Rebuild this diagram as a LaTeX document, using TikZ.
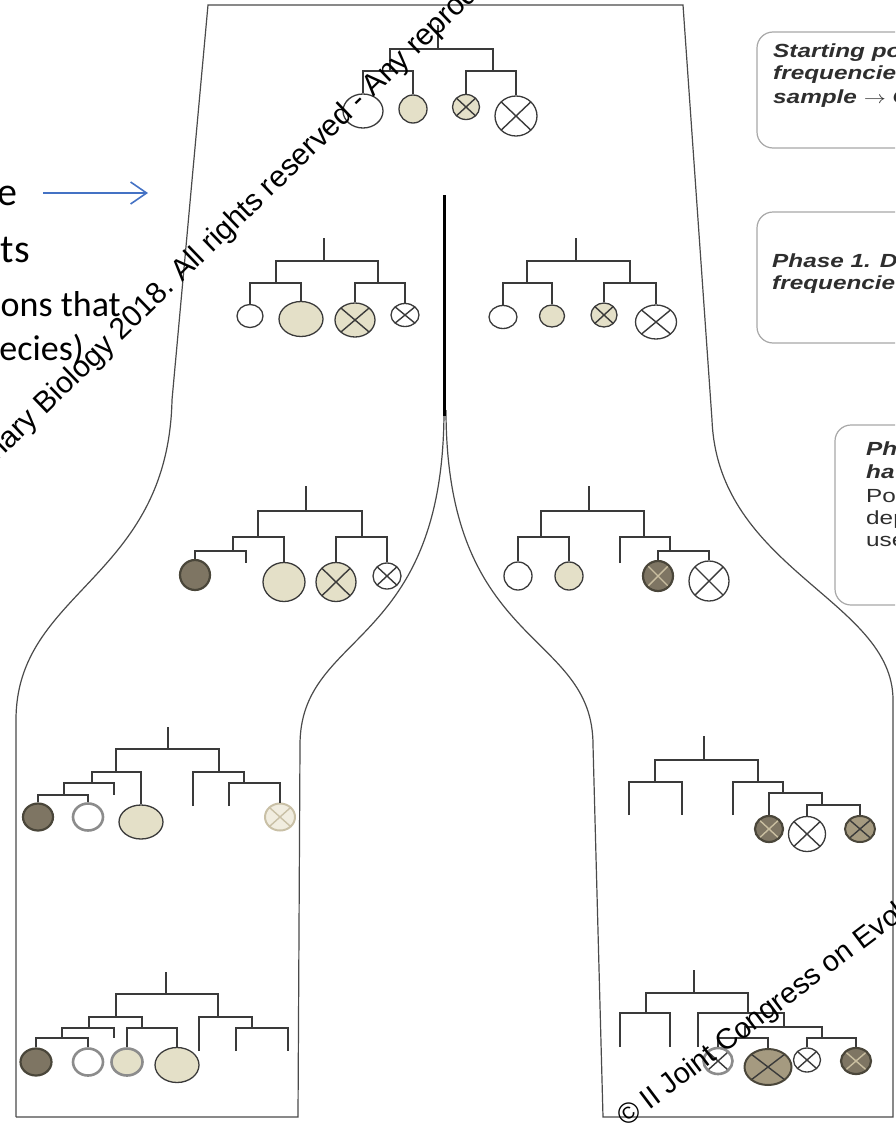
\documentclass[tikz,border=0pt]{standalone}
\usepackage{graphicx}
\usepackage{fontspec}
\setmainfont{Liberation Sans}
\newfontfamily\slidefont{Carlito}
\usetikzlibrary{shapes.geometric, arrows.meta}
\definecolor{treegray}{HTML}{3A3A3A}
\definecolor{outgray}{HTML}{4A4A4A}
\definecolor{palefill}{HTML}{E4E0C8}
\definecolor{darkfill}{HTML}{7E7563}
\definecolor{darkedge}{HTML}{4A463A}
\definecolor{midfill}{HTML}{A59A80}
\definecolor{ringgray}{HTML}{8C8C8C}
\definecolor{fadeedge}{HTML}{C9C0A6}
\definecolor{fadefill}{HTML}{F1EDE0}
\definecolor{xlight}{HTML}{C9BEA0}
\definecolor{boxgray}{HTML}{A8A8A8}
\definecolor{notegray}{HTML}{2E2E2E}
\definecolor{slideblue}{HTML}{4472C4}
\newcommand{\wide}[1]{\scalebox{1.28}[1]{#1}}

\begin{document}
\begin{tikzpicture}[x=1pt, y=-1pt,
    branch/.style={draw=treegray, line width=1.8pt},
    outline/.style={draw=outgray, line width=1.2pt},
    hap/.style={ellipse, draw=treegray, line width=1.3pt, inner sep=0pt, fill=white},
    sz/.style 2 args={minimum width=#1pt, minimum height=#2pt},
    pale/.style={fill=palefill},
    dark/.style={fill=darkfill, draw=darkedge, line width=2.2pt},
    mid/.style={fill=midfill, draw=darkedge, line width=2pt},
    ring/.style={draw=ringgray, line width=2.6pt},
    faded/.style={draw=fadeedge, fill=fadefill, line width=2pt},
    crossed/.default=treegray,
    crossed/.style={path picture={\draw[line width=1.4pt, #1]
        (path picture bounding box.north west) -- (path picture bounding box.south east)
        (path picture bounding box.north east) -- (path picture bounding box.south west);}},
    note/.style={rounded corners=16pt, draw=boxgray, line width=1.2pt, fill=white},
    notebold/.style={anchor=base west, inner sep=0pt, text=notegray,
        font=\fontsize{19}{22}\selectfont\bfseries\itshape},
    noteplain/.style={anchor=base west, inner sep=0pt, text=notegray,
        font=\fontsize{19}{22}\selectfont},
    slidetext/.style={anchor=base east, inner sep=0pt, text=black},
    wmtext/.style={inner sep=0pt, text=black, font=\fontsize{30}{30}\selectfont}]

\path[use as bounding box] (0,0) rectangle (895,1124);
\clip (0,0) rectangle (895,1124);

% outline of the two lineages
\draw[outline] (16,1117) -- (16,720) .. controls (16,590) and (168,580) .. (172,400) -- (208,5) -- (683,5)
    -- (712,420) .. controls (718,570) and (893,600) .. (893,700) -- (893,1117) -- (603,1117)
    -- (593,745) .. controls (593,630) and (446,650) .. (446,410);
\draw[outline] (16,1117) -- (298,1117) -- (300,745) .. controls (300,630) and (444,650) .. (444,410);
\draw[line width=3pt] (444,195) coordinate (splittop) -- (444,416) coordinate (splitbot);

% boxes on the right
\draw[note] (757,32) rectangle (940,148);
\draw[note] (757,212) rectangle (940,343);
\draw[note] (835,425) rectangle (940,605);
\node[notebold] (n1a) at (773,58) {\wide{Starting po}};
\node[notebold] (n1b) at (773,80) {\wide{frequencie}};
\node[notebold] (n1c) at (773,103) {\wide{sample $\rightarrow$ C}};
\node[notebold] (n2a) at (772,267) {\wide{Phase 1. D}};
\node[notebold] (n2b) at (772,289) {\wide{frequencie}};
\node[notebold] (n3a) at (866,455) {\wide{Ph}};
\node[notebold] (n3b) at (866,478) {\wide{ha}};
\node[noteplain] (n3c) at (866,502) {\wide{Po}};
\node[noteplain] (n3d) at (866,524) {\wide{dep}};
\node[noteplain] (n3e) at (866,546) {\wide{use}};

% slide text on the left
\node[slidetext, font=\slidefont\fontsize{40}{48}\selectfont] (s1) at (18,205) {e};
\node[slidetext, font=\slidefont\fontsize{40}{48}\selectfont] (s2) at (30,262) {ts};
\node[slidetext, font=\slidefont\fontsize{36}{42}\selectfont] (s3) at (121,316) {ons that};
\node[slidetext, font=\slidefont\fontsize{36}{42}\selectfont] (s4) at (84,360) {ecies)};
\coordinate (arrowtail) at (43,193);
\coordinate (arrowtip) at (148,193);
\draw[slideblue, line width=1.6pt, -{Straight Barb[length=16pt, width=22pt]}] (arrowtail) -- (arrowtip);

% starting tree
\node[hap, sz={40}{34}] (t0a) at (363,111) {};
\node[hap, pale, sz={28}{28}] (t0b) at (413,109) {};
\node[hap, pale, crossed, sz={27}{25}] (t0c) at (466,107) {};
\node[hap, crossed, sz={42}{40}] (t0d) at (516,116) {};
\coordinate (t0top) at (438,25);
\coordinate (t0j) at (438,49);
\coordinate (t0l) at (390,71);
\coordinate (t0r) at (493,71);
\draw[branch] (t0top) -- (t0j);
\draw[branch] (t0l) |- (t0j) -| (t0r);
\draw[branch] (t0a.north) |- (t0l) -| (t0b.north);
\draw[branch] (t0c.north) |- (t0r) -| (t0d.north);

% phase 1, left
\node[hap, sz={26}{23}] (l2a) at (250,316) {};
\node[hap, pale, sz={44}{35}] (l2b) at (301,319) {};
\node[hap, pale, crossed, sz={40}{34}] (l2c) at (355,320) {};
\node[hap, crossed, sz={28}{23}] (l2d) at (405,315) {};
\coordinate (l2top) at (324,238);
\coordinate (l2j) at (324,261);
\coordinate (l2l) at (276,283);
\coordinate (l2r) at (378,283);
\draw[branch] (l2top) -- (l2j);
\draw[branch] (l2l) |- (l2j) -| (l2r);
\draw[branch] (l2a.north) |- (l2l) -| (l2b.north);
\draw[branch] (l2c.north) |- (l2r) -| (l2d.north);

% phase 1, right
\node[hap, sz={28}{23}] (r2a) at (503,317) {};
\node[hap, pale, sz={25}{22}] (r2b) at (552,316) {};
\node[hap, pale, crossed, sz={26}{24}] (r2c) at (604,315) {};
\node[hap, crossed, sz={41}{34}] (r2d) at (656,322) {};
\coordinate (r2top) at (576,238);
\coordinate (r2j) at (576,261);
\coordinate (r2l) at (527,283);
\coordinate (r2r) at (630,283);
\draw[branch] (r2top) -- (r2j);
\draw[branch] (r2l) |- (r2j) -| (r2r);
\draw[branch] (r2a.north) |- (r2l) -| (r2b.north);
\draw[branch] (r2c.north) |- (r2r) -| (r2d.north);

% phase 2, left
\node[hap, dark, sz={30}{30}] (l3a) at (195,575) {};
\coordinate (l3s) at (246,563);
\node[hap, pale, sz={42}{39}] (l3b) at (284,582) {};
\node[hap, pale, crossed, sz={40}{39}] (l3c) at (336,582) {};
\node[hap, crossed, sz={28}{26}] (l3d) at (387,576) {};
\coordinate (l3top) at (306,486);
\coordinate (l3j) at (306,511);
\coordinate (l3l) at (258,537);
\coordinate (l3r) at (362,537);
\coordinate (l3ll) at (233,551);
\draw[branch] (l3top) -- (l3j);
\draw[branch] (l3l) |- (l3j) -| (l3r);
\draw[branch] (l3ll) |- (l3l) -| (l3b.north);
\draw[branch] (l3a.north) |- (l3ll) -| (l3s);
\draw[branch] (l3c.north) |- (l3r) -| (l3d.north);

% phase 2, right
\node[hap, sz={28}{28}] (r3a) at (518,576) {};
\node[hap, pale, sz={28}{28}] (r3b) at (569,576) {};
\coordinate (r3s) at (620,563);
\node[hap, dark, crossed=xlight, sz={30}{30}] (r3c) at (658,576) {};
\node[hap, crossed, sz={40}{40}] (r3d) at (709,581) {};
\coordinate (r3top) at (589,486);
\coordinate (r3j) at (589,511);
\coordinate (r3l) at (541,537);
\coordinate (r3r) at (644,537);
\coordinate (r3rr) at (670,551);
\draw[branch] (r3top) -- (r3j);
\draw[branch] (r3l) |- (r3j) -| (r3r);
\draw[branch] (r3a.north) |- (r3l) -| (r3b.north);
\draw[branch] (r3s) |- (r3r) -| (r3rr);
\draw[branch] (r3c.north) |- (r3rr) -| (r3d.north);

% later, left
\node[hap, dark, sz={30}{27}] (l4a) at (38,817) {};
\node[hap, ring, sz={30}{27}] (l4b) at (88,817) {};
\node[hap, pale, sz={44}{34}] (l4c) at (141,822) {};
\node[hap, faded, crossed=fadeedge, sz={30}{27}] (l4d) at (280,817) {};
\coordinate (l4top) at (168,727);
\coordinate (l4j) at (168,749);
\coordinate (l4l) at (116,772);
\coordinate (l4r) at (219,772);
\coordinate (l4ll) at (92,783);
\coordinate (l4lll) at (64,795);
\coordinate (l4rr) at (244,783);
\coordinate (l4s1) at (114,795);
\coordinate (l4s2) at (193,806);
\coordinate (l4s3) at (229,806);
\draw[branch] (l4top) -- (l4j);
\draw[branch] (l4l) |- (l4j) -| (l4r);
\draw[branch] (l4ll) |- (l4l) -| (l4c.north);
\draw[branch] (l4lll) |- (l4ll) -| (l4s1);
\draw[branch] (l4a.north) |- (l4lll) -| (l4b.north);
\draw[branch] (l4s2) |- (l4r) -| (l4rr);
\draw[branch] (l4s3) |- (l4rr) -| (l4d.north);

% later, right
\node[hap, dark, crossed=xlight, sz={28}{26}] (r4a) at (769,829) {};
\node[hap, crossed, sz={37}{35}] (r4b) at (807,834) {};
\node[hap, mid, crossed, sz={30}{26}] (r4c) at (860,829) {};
\coordinate (r4top) at (704,736);
\coordinate (r4j) at (704,760);
\coordinate (r4l) at (655,782);
\coordinate (r4r) at (758,782);
\coordinate (r4rr) at (783,793);
\coordinate (r4rrr) at (822,805);
\coordinate (r4s1) at (629,815);
\coordinate (r4s2) at (682,815);
\coordinate (r4s3) at (733,815);
\draw[branch] (r4top) -- (r4j);
\draw[branch] (r4l) |- (r4j) -| (r4r);
\draw[branch] (r4s1) |- (r4l) -| (r4s2);
\draw[branch] (r4s3) |- (r4r) -| (r4rr);
\draw[branch] (r4a.north) |- (r4rr) -| (r4rrr);
\draw[branch] (r4b.north) |- (r4rrr) -| (r4c.north);

% present, left
\node[hap, dark, sz={31}{27}] (l5a) at (36,1062) {};
\node[hap, ring, sz={30}{27}] (l5b) at (88,1062) {};
\node[hap, pale, ring, sz={31}{27}] (l5c) at (127,1062) {};
\node[hap, pale, sz={44}{35}] (l5d) at (177,1065) {};
\coordinate (l5top) at (166,972);
\coordinate (l5j) at (166,994);
\coordinate (l5l) at (116,1017);
\coordinate (l5r) at (218,1017);
\coordinate (l5ll) at (89,1028);
\coordinate (l5lr) at (142,1028);
\coordinate (l5lll) at (62,1038);
\coordinate (l5rr) at (252,1028);
\coordinate (l5s1) at (114,1038);
\coordinate (l5s2) at (199,1051);
\coordinate (l5s3) at (236,1051);
\coordinate (l5s4) at (288,1051);
\draw[branch] (l5top) -- (l5j);
\draw[branch] (l5l) |- (l5j) -| (l5r);
\draw[branch] (l5ll) |- (l5l) -| (l5lr);
\draw[branch] (l5lll) |- (l5ll) -| (l5s1);
\draw[branch] (l5a.north) |- (l5lll) -| (l5b.north);
\draw[branch] (l5c.north) |- (l5lr) -| (l5d.north);
\draw[branch] (l5s2) |- (l5r) -| (l5rr);
\draw[branch] (l5s3) |- (l5rr) -| (l5s4);

% present, right
\node[hap, ring, crossed, sz={29}{26}] (r5a) at (718,1061) {};
\node[hap, mid, crossed, sz={47}{36}] (r5b) at (768,1067) {};
\node[hap, crossed, sz={27}{24}] (r5c) at (807,1060) {};
\node[hap, dark, crossed=xlight, sz={30}{26}] (r5d) at (856,1061) {};
\coordinate (r5top) at (694,970);
\coordinate (r5j) at (694,993);
\coordinate (r5l) at (646,1013);
\coordinate (r5r) at (748,1013);
\coordinate (r5rr) at (784,1027);
\coordinate (r5x) at (745,1038);
\coordinate (r5y) at (822,1038);
\coordinate (r5s1) at (620,1047);
\coordinate (r5s2) at (670,1047);
\coordinate (r5s3) at (698,1047);
\draw[branch] (r5top) -- (r5j);
\draw[branch] (r5l) |- (r5j) -| (r5r);
\draw[branch] (r5s1) |- (r5l) -| (r5s2);
\draw[branch] (r5s3) |- (r5r) -| (r5rr);
\draw[branch] (r5x) |- (r5rr) -| (r5y);
\draw[branch] (r5a.north) |- (r5x) -| (r5b.north);
\draw[branch] (r5c.north) |- (r5y) -| (r5d.north);

% watermark
\node[wmtext, rotate=44, anchor=base east] (wm1a) at (176,289) {Evolutionary Biology 2018.};
\node[wmtext, rotate=44, anchor=base west] (wm1b) at (182,283) {All rights reserved - Any reproduction};
\node[wmtext, rotate=37, anchor=base west, font=\fontsize{29}{29}\selectfont] (wm2) at (626,1128)
    {© II Joint Congress on Evolutionary Biology};
\end{tikzpicture}
\end{document}
